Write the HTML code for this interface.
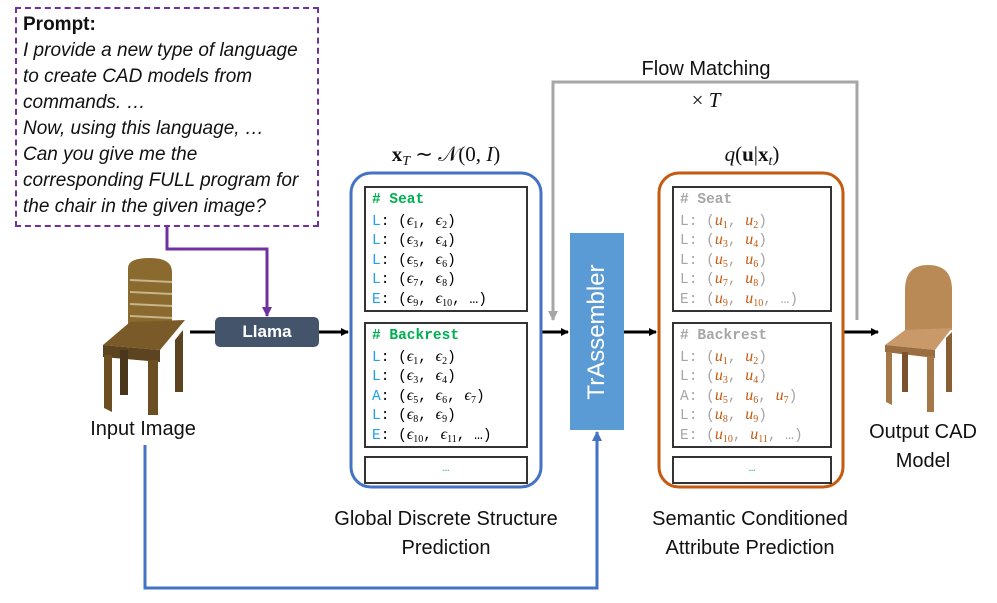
<!DOCTYPE html>
<html><head><meta charset="utf-8"><style>
body{margin:0;width:997px;height:603px;background:#fff;position:relative;overflow:hidden;font-family:"Liberation Sans",sans-serif;}
.a{position:absolute;}
.prompt{left:15px;top:7px;width:300px;height:216px;border:2px dashed #7030a0;}
.prompt div{position:absolute;left:6px;font-size:19px;line-height:26px;color:#111;white-space:nowrap}
.code{position:absolute;border:2.5px solid #333;background:#fff;font-family:"Liberation Mono",monospace;font-size:14.5px;padding:3px 6px;box-sizing:border-box;white-space:pre;overflow:hidden}
.code div{height:19.5px;line-height:19.5px}
.g{color:#00b050;font-weight:bold}
.b{color:#1fa0e8}
.gr{color:#a6a6a6}
.o{color:#c55a11;font-family:"Liberation Serif",serif;font-style:italic;font-size:16px}
.e{font-family:"Liberation Serif",serif;font-style:italic;font-size:16px}
sub{font-size:10px;font-style:normal;line-height:0;vertical-align:-0.3em}
.lab{position:absolute;font-size:20px;text-align:center;color:#111;}
.m{font-family:"Liberation Serif",serif;font-size:21px;}
</style></head><body>
<div class="a prompt">
<div style="top:3px;font-weight:bold;font-style:normal">Prompt:</div>
<div style="top:29px;font-style:italic">I provide a new type of language</div>
<div style="top:55px;font-style:italic">to create CAD models from</div>
<div style="top:81px;font-style:italic">commands. …</div>
<div style="top:107px;font-style:italic">Now, using this language, …</div>
<div style="top:133px;font-style:italic">Can you give me the</div>
<div style="top:159px;font-style:italic">corresponding FULL program for</div>
<div style="top:185px;font-style:italic">the chair in the given image?</div>
</div>

<svg class="a" style="left:0;top:0" width="997" height="603">
<defs>
<marker id="ak" markerWidth="8" markerHeight="8" refX="7" refY="4" orient="auto" markerUnits="userSpaceOnUse"><path d="M0,0 L8,4 L0,8z" fill="#000"/></marker>
<marker id="ap" markerWidth="10" markerHeight="10" refX="9" refY="5" orient="auto" markerUnits="userSpaceOnUse"><path d="M0,0 L10,5 L0,10z" fill="#7030a0"/></marker>
<marker id="ag" markerWidth="10" markerHeight="10" refX="9" refY="5" orient="auto" markerUnits="userSpaceOnUse"><path d="M0,0 L10,5 L0,10z" fill="#a6a6a6"/></marker>
<marker id="ab" markerWidth="10" markerHeight="10" refX="9" refY="5" orient="auto" markerUnits="userSpaceOnUse"><path d="M0,0 L10,5 L0,10z" fill="#4472c4"/></marker>
</defs>
<path d="M167,226 V249 H267 V316" fill="none" stroke="#7030a0" stroke-width="3" marker-end="url(#ap)"/>
<path d="M190,332 H215" stroke="#000" stroke-width="3"/>
<path d="M319,332 H348" stroke="#000" stroke-width="3" marker-end="url(#ak)"/>
<path d="M542,332 H568" stroke="#000" stroke-width="3" marker-end="url(#ak)"/>
<path d="M624,332 H656" stroke="#000" stroke-width="3" marker-end="url(#ak)"/>
<path d="M844,332 H878" stroke="#000" stroke-width="3" marker-end="url(#ak)"/>
<path d="M857,320 V82 H553 V320" fill="none" stroke="#a6a6a6" stroke-width="3" marker-end="url(#ag)"/>
<path d="M145,445 V588 H597 V432" fill="none" stroke="#4472c4" stroke-width="3" marker-end="url(#ab)"/>
<rect x="351" y="173" width="190" height="314" rx="20" fill="none" stroke="#4472c4" stroke-width="3"/>
<rect x="659" y="173" width="184" height="314" rx="20" fill="none" stroke="#c55a11" stroke-width="3"/>
<g>
<path d="M128,268 Q128,258 150,258 Q172,258 172,272 L172,325 L135,335 L128,330z" fill="#8a6a2e"/>
<path d="M130,280 L172,282 M130,292 L172,294 M130,304 L172,306 M130,316 L172,318" stroke="#c9b58a" stroke-width="2"/>
<path d="M103,345 L130,322 L185,320 L160,350z" fill="#7a5a28"/>
<path d="M103,345 L160,350 L160,362 L103,357z" fill="#5d4420"/>
<path d="M104,355 L112,355 L112,412 L104,408z" fill="#6b4e22"/>
<path d="M148,360 L158,360 L158,415 L148,415z" fill="#6b4e22"/>
<path d="M175,340 L183,330 L183,392 L175,392z" fill="#5d4420"/>
<path d="M120,350 L128,350 L128,395 L120,395z" fill="#4a361a"/>
</g>
<g>
<path d="M905,290 Q905,265 928,265 Q952,265 952,290 L952,330 L905,335z" fill="#b98a55"/>
<path d="M885,345 L905,330 L952,328 L935,350z" fill="#c9996a"/>
<path d="M885,345 L935,350 L935,358 L885,352z" fill="#9a6e40"/>
<path d="M886,352 L892,352 L892,405 L886,402z" fill="#a57848"/>
<path d="M927,356 L934,356 L934,412 L927,412z" fill="#a57848"/>
<path d="M946,338 L952,332 L952,392 L946,392z" fill="#8a5e34"/>
<path d="M902,352 L908,352 L908,392 L902,392z" fill="#7a532e"/>
</g>
</svg>

<div class="a" style="left:215px;top:317px;width:104px;height:30px;background:#44546a;border-radius:5px;color:#fff;font-weight:bold;font-size:17px;text-align:center;line-height:30px">Llama</div>
<div class="a" style="left:570px;top:233px;width:54px;height:197px;background:#5b9bd5;"></div>
<div class="a" style="left:497px;top:318px;width:200px;height:28px;transform:rotate(-90deg);color:#fff;font-size:24px;text-align:center;line-height:28px">TrAssembler</div>

<div class="code" style="left:364px;top:186px;width:164px;height:126px"><div class="g"># Seat</div><div><span class="b">L</span>: (<span class="e">ϵ<sub>1</sub></span>, <span class="e">ϵ<sub>2</sub></span>)</div><div><span class="b">L</span>: (<span class="e">ϵ<sub>3</sub></span>, <span class="e">ϵ<sub>4</sub></span>)</div><div><span class="b">L</span>: (<span class="e">ϵ<sub>5</sub></span>, <span class="e">ϵ<sub>6</sub></span>)</div><div><span class="b">L</span>: (<span class="e">ϵ<sub>7</sub></span>, <span class="e">ϵ<sub>8</sub></span>)</div><div><span class="b">E</span>: (<span class="e">ϵ<sub>9</sub></span>, <span class="e">ϵ<sub>10</sub></span>, …)</div></div>
<div class="code" style="left:364px;top:322px;width:164px;height:126px"><div class="g"># Backrest</div><div><span class="b">L</span>: (<span class="e">ϵ<sub>1</sub></span>, <span class="e">ϵ<sub>2</sub></span>)</div><div><span class="b">L</span>: (<span class="e">ϵ<sub>3</sub></span>, <span class="e">ϵ<sub>4</sub></span>)</div><div><span class="b">A</span>: (<span class="e">ϵ<sub>5</sub></span>, <span class="e">ϵ<sub>6</sub></span>, <span class="e">ϵ<sub>7</sub></span>)</div><div><span class="b">L</span>: (<span class="e">ϵ<sub>8</sub></span>, <span class="e">ϵ<sub>9</sub></span>)</div><div><span class="b">E</span>: (<span class="e">ϵ<sub>10</sub></span>, <span class="e">ϵ<sub>11</sub></span>, …)</div></div>
<div class="code" style="left:364px;top:456px;width:164px;height:28px;text-align:center;color:#00b050;font-size:11px;line-height:22px;padding:0">…</div>

<div class="code gr" style="left:672px;top:186px;width:160px;height:126px"><div><b># Seat</b></div><div>L: (<span class="o">u<sub>1</sub></span>, <span class="o">u<sub>2</sub></span>)</div><div>L: (<span class="o">u<sub>3</sub></span>, <span class="o">u<sub>4</sub></span>)</div><div>L: (<span class="o">u<sub>5</sub></span>, <span class="o">u<sub>6</sub></span>)</div><div>L: (<span class="o">u<sub>7</sub></span>, <span class="o">u<sub>8</sub></span>)</div><div>E: (<span class="o">u<sub>9</sub></span>, <span class="o">u<sub>10</sub></span>, …)</div></div>
<div class="code gr" style="left:672px;top:322px;width:160px;height:126px"><div><b># Backrest</b></div><div>L: (<span class="o">u<sub>1</sub></span>, <span class="o">u<sub>2</sub></span>)</div><div>L: (<span class="o">u<sub>3</sub></span>, <span class="o">u<sub>4</sub></span>)</div><div>A: (<span class="o">u<sub>5</sub></span>, <span class="o">u<sub>6</sub></span>, <span class="o">u<sub>7</sub></span>)</div><div>L: (<span class="o">u<sub>8</sub></span>, <span class="o">u<sub>9</sub></span>)</div><div>E: (<span class="o">u<sub>10</sub></span>, <span class="o">u<sub>11</sub></span>, …)</div></div>
<div class="code" style="left:672px;top:456px;width:160px;height:28px;text-align:center;color:#00b050;font-size:11px;line-height:22px;padding:0">…</div>

<div class="lab" style="left:606px;top:58px;width:200px">Flow Matching</div>
<div class="lab m" style="left:606px;top:88px;width:200px">× <i>T</i></div>
<div class="lab m" style="left:346px;top:142px;width:200px"><b>x</b><sub style="font-size:14px;font-style:italic">T</sub> ∼ 𝒩(0, <i>I</i>)</div>
<div class="lab m" style="left:652px;top:142px;width:200px"><i>q</i>(<b>u</b>|<b>x</b><sub style="font-size:14px;font-style:italic">t</sub>)</div>
<div class="lab" style="left:43px;top:418px;width:200px">Input Image</div>
<div class="lab" style="left:853px;top:418px;width:140px;line-height:29px">Output CAD<br>Model</div>
<div class="lab" style="left:296px;top:505px;width:300px;line-height:29px">Global Discrete Structure<br>Prediction</div>
<div class="lab" style="left:600px;top:505px;width:300px;line-height:29px">Semantic Conditioned<br>Attribute Prediction</div>
</body></html>
